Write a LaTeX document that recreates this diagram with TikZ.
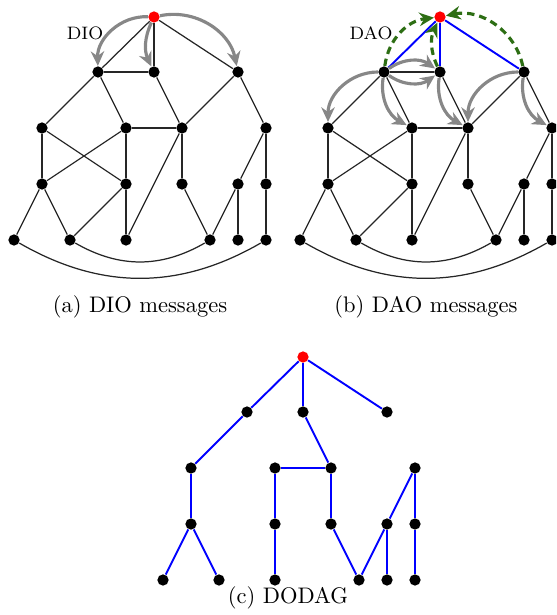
\documentclass[tikz,border=0pt]{standalone}
\usetikzlibrary{arrows.meta}
\definecolor{dgreen}{RGB}{45,110,20}
\definecolor{msggray}{RGB}{135,135,135}
\newcommand\placegraphnodes[3]{%
  \foreach \n/\x/\y in {A1/98/72,A2/154/72,A3/238/72,B1/42/128,B2/126/128,B3/182/128,B4/266/128,
    C1/42/184,C2/126/184,C3/182/184,C4/238/184,C5/266/184,
    D1/14/240,D2/70/240,D3/126/240,D4/210/240,D5/238/240,D6/266/240}{%
    \node[dot] (#1\n) at (\x+#2,-\y-#3) {};}
  \node[rootdot] (#1R) at (154+#2,-17-#3) {};
}
\newcommand\drawmesh[2]{% prefix, style of root edges
  \foreach \u/\v in {R/A1,R/A2,R/A3}{\draw[#2] (#1\u) -- (#1\v);}
  \foreach \u/\v in {A1/A2,A1/B1,A1/B2,A2/B3,A3/B3,A3/B4,B2/B3,B1/C1,B1/C2,B2/C1,B2/C2,
    B3/C3,B3/D3,B4/C4,B4/C5,C1/D1,C1/D2,C2/D2,C2/D3,C3/D4,C4/D4,C4/D5,C5/D6}{%
    \draw[edge] (#1\u) -- (#1\v);}
  \draw[edge] (#1D1) to[bend right=30] (#1D6);
  \draw[edge] (#1D2) to[bend right=30] (#1D4);
}
\begin{document}
\begin{tikzpicture}[x=0.4444pt,y=0.4444pt,
  dot/.style={circle,fill=black,inner sep=0pt,minimum size=5pt},
  rootdot/.style={dot,fill=red},
  edge/.style={draw=black!85,line width=0.55pt},
  tedge/.style={draw=blue,line width=0.85pt},
  dio/.style={draw=msggray,line width=1.4pt,-{Stealth[length=6.5pt,width=6pt]}},
  dao/.style={draw=dgreen,line width=1.4pt,dash pattern=on 3.3pt off 2.2pt,-{Stealth[length=6.5pt,width=6pt]}},
  lbl/.style={font=\footnotesize},
  captext/.style={font=\normalsize}]
\useasboundingbox (0,0) rectangle (556,-615);
\clip (0,0) rectangle (556,-615);

% ---------- (a) DIO messages ----------
\placegraphnodes{a}{0}{0}
\drawmesh{a}{edge}
\draw[dio] (aR) to[bend right=47] (aA1);
\draw[dio] (aR) to[bend right=25] (aA2);
\draw[dio] (aR) to[bend left=45] (aA3);
\node[lbl] (dio) at (85,-33) {DIO};
\node[captext] (capa) at (140,-307) {(a) DIO messages};

% ---------- (b) DAO messages ----------
\placegraphnodes{b}{286}{0}
\drawmesh{b}{tedge}
\draw[dio] (bA1) to[bend left=35] (bA2);
\draw[dio] (bA1) to[bend right=35] (bA2);
\draw[dio] (bA1) to[bend right=45] (bB1);
\draw[dio] (bA1) to[bend right=35] (bB2);
\draw[dio] (bA2) to[bend right=35] (bB3);
\draw[dio] (bA3) to[bend right=45] (bB3);
\draw[dio] (bA3) to[bend right=35] (bB4);
\draw[dao] (bA1) to[bend left=38] (bR);
\draw[dao] (bA2) to[bend left=25] (bR);
\draw[dao] (bA3) to[bend right=45] (bR);
\node[lbl] (dao) at (371,-33) {DAO};
\node[captext] (capb) at (426,-307) {(b) DAO messages};

% ---------- (c) DODAG ----------
\placegraphnodes{c}{149}{340}
\foreach \u/\v in {R/A1,R/A2,R/A3,A1/B1,A2/B3,B2/B3,B1/C1,C1/D1,C1/D2,B2/C2,C2/D3,
  B3/C3,C3/D4,C4/D4,C4/D5,B4/C4,B4/C5,C5/D6}{%
  \draw[tedge] (c\u) -- (c\v);}
\node[captext] (capc) at (288,-598) {(c) DODAG};
\end{tikzpicture}
\end{document}
